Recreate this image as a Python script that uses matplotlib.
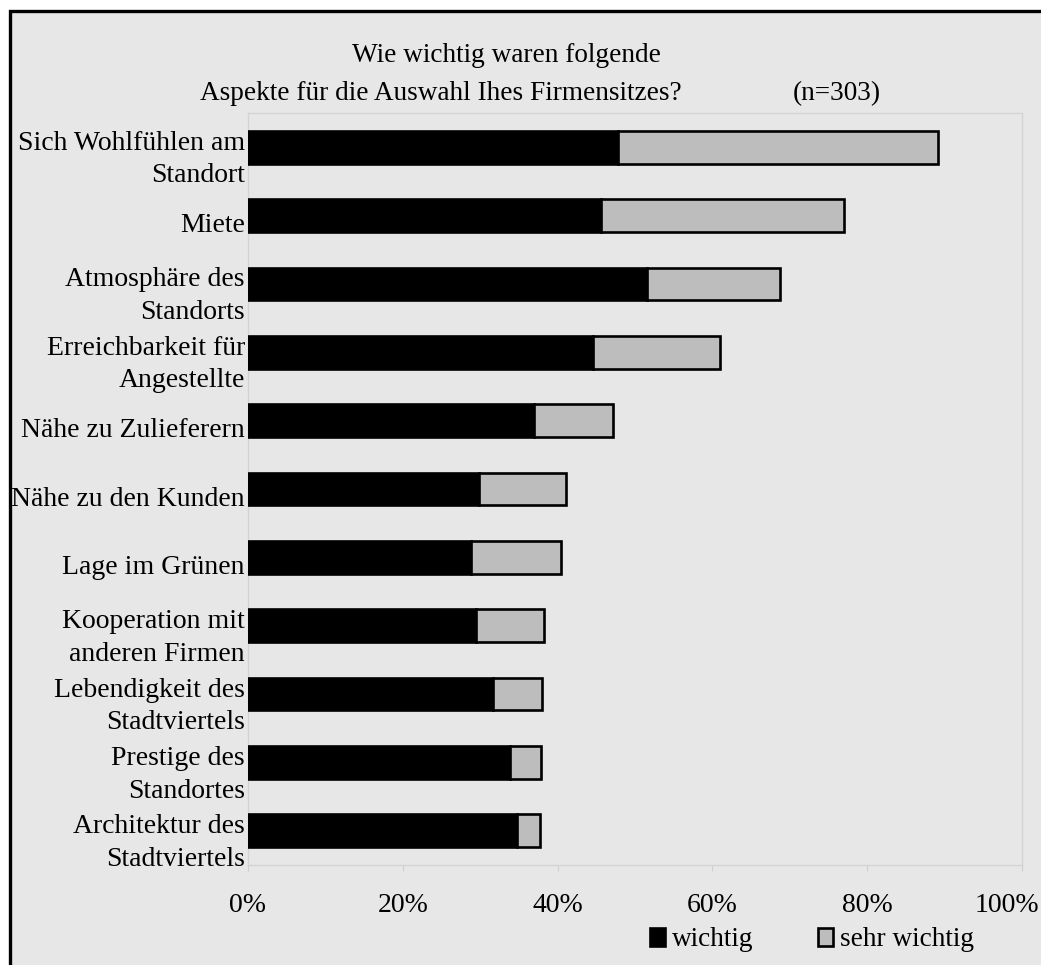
import matplotlib
matplotlib.use("Agg")
import matplotlib.pyplot as plt
from matplotlib.patches import Rectangle
from matplotlib.transforms import ScaledTranslation
import numpy as np

plt.rcParams['font.family'] = ['Liberation Serif', 'DejaVu Serif']

categories = [
    "Sich Wohlfühlen am\nStandort",
    "Miete",
    "Atmosphäre des\nStandorts",
    "Erreichbarkeit für\nAngestellte",
    "Nähe zu Zulieferern",
    "Nähe zu den Kunden",
    "Lage im Grünen",
    "Kooperation mit\nanderen Firmen",
    "Lebendigkeit des\nStadtviertels",
    "Prestige des\nStandortes",
    "Architektur des\nStadtviertels",
]
wichtig = [47.8, 45.6, 51.6, 44.6, 36.9, 29.8, 28.8, 29.5, 31.7, 33.8, 34.8]
sehr_wichtig = [41.4, 31.4, 17.1, 16.4, 10.3, 11.3, 11.6, 8.8, 6.3, 4.0, 2.9]
xticks = [0, 20, 40, 60, 80, 100]
xticklabels = ["0%", "20%", "40%", "60%", "80%", "100%"]
series_names = ["wichtig", "sehr wichtig"]
title_line1 = "Wie wichtig waren folgende"
title_line2 = "Aspekte für die Auswahl Ihes Firmensitzes?"
n_text = "(n=303)"

W, H = 1041, 965
fig = plt.figure(figsize=(W / 100, H / 100), dpi=100, facecolor="white")

# background panel with frame
bg = Rectangle((10 / W, -0.02), 1.05, 1 - 11 / H + 0.02, transform=fig.transFigure,
               facecolor="#e7e7e7", edgecolor="black", linewidth=2.4, zorder=-10)
fig.patches.append(bg)

ax = fig.add_axes([248 / W, 1 - 865 / H, (1022 - 248) / W, (865 - 113) / H])
ax.set_facecolor("none")

fs = 20
y = np.arange(len(categories))
b1 = ax.barh(y, wichtig, height=0.48, color="black", edgecolor="black",
             linewidth=1.9, label=series_names[0], zorder=3)
b2 = ax.barh(y, sehr_wichtig, left=wichtig, height=0.48, color="#bdbdbd",
             edgecolor="black", linewidth=1.9, label=series_names[1], zorder=3)

ax.set_xlim(0, 100)
ax.set_ylim(len(categories) - 0.5, -0.5)
ax.set_xticks(xticks)
ax.set_xticklabels(xticklabels, fontsize=fs)
ax.tick_params(axis="x", length=4, color="#cfcfcf", pad=16)
lbls = ax.get_xticklabels()
lbls[-1].set_transform(lbls[-1].get_transform() + ScaledTranslation(-0.15, 0, fig.dpi_scale_trans))
ax.set_yticks([])
for s in ax.spines.values():
    s.set_color("#d3d3d3")
    s.set_linewidth(1.0)

# category labels
trans = ax.get_yaxis_transform()
for i, lab in enumerate(categories):
    off = 0.18 if "\n" in lab else 0.15
    ax.text(-0.004, i + off, lab, transform=trans, ha="right", va="center",
            fontsize=fs, linespacing=1.4)

# title
fig.text(506 / W, 1 - 55 / H, title_line1, ha="center", va="center", fontsize=19.6)
fig.text(441 / W, 1 - 94 / H, title_line2, ha="center", va="center", fontsize=19.6)
fig.text(837 / W, 1 - 94 / H, n_text, ha="center", va="center", fontsize=19.6)

fig.legend(handles=[b1, b2], labels=series_names, loc="center",
           bbox_to_anchor=(812 / W, 1 - 940 / H), ncol=2, frameon=False,
           fontsize=19.6, handlelength=0.55, handleheight=0.65, handletextpad=0.25,
           columnspacing=2.4, borderpad=0)

fig.savefig("out.png", dpi=100, facecolor="white")
